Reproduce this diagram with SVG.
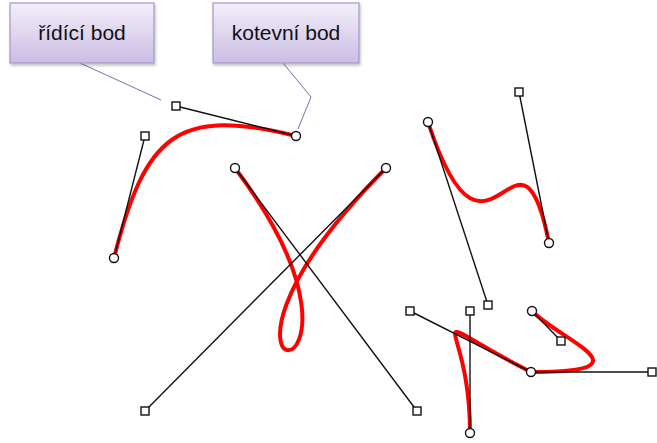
<svg xmlns="http://www.w3.org/2000/svg" width="657" height="443" viewBox="0 0 657 443">
<defs>
<linearGradient id="boxg" x1="0" y1="0" x2="0" y2="1">
<stop offset="0" stop-color="#f3effa"/>
<stop offset="1" stop-color="#cbbde4"/>
</linearGradient>
<filter id="sh" x="-10%" y="-10%" width="130%" height="140%">
<feDropShadow dx="1" dy="2" stdDeviation="1.5" flood-color="#000" flood-opacity="0.25"/>
</filter>
</defs>
<style>
.box{fill:url(#boxg);stroke:#a597c6;stroke-width:1.2}
.lbl{font-family:"Liberation Sans",Arial,sans-serif;font-size:21px;fill:#111;text-anchor:middle}
.call{fill:none;stroke:#7d6cb8;stroke-width:1}
.curve{fill:none;stroke:#ff0000;stroke-width:4;stroke-linecap:round;stroke-linejoin:round}
.handle{fill:none;stroke:#111;stroke-width:1.4}
.anc{fill:#fff;stroke:#111;stroke-width:1.4}
.ctl{fill:#fff;stroke:#111;stroke-width:1.4}
</style>
<g id="connectors">
<polyline class="call" points="80,63 161,100"/>
<polyline class="call" points="283,63 311,97 298,129"/>
</g>
<g id="label-ridici">
<rect class="box" x="10" y="3" width="144" height="60" filter="url(#sh)"/>
<text class="lbl" x="82" y="40">řídící bod</text>
</g>
<g id="label-kotevni">
<rect class="box" x="213" y="3" width="146" height="60" filter="url(#sh)"/>
<text class="lbl" x="286" y="40">kotevní bod</text>
</g>
<g id="curve1">
<path class="curve" d="M114,258 C145,136 176,106 296,136"/>
<line class="handle" x1="114" y1="258" x2="145" y2="136"/>
<line class="handle" x1="296" y1="136" x2="176" y2="106"/>
<rect class="ctl" x="141" y="132" width="8" height="8"/>
<rect class="ctl" x="172" y="102" width="8" height="8"/>
<circle class="anc" cx="114" cy="258" r="4.5"/>
<circle class="anc" cx="296" cy="136" r="4.5"/>
</g>
<g id="curve2">
<path class="curve" d="M235,168 C417,411 145,411 386,168"/>
<line class="handle" x1="235" y1="168" x2="417" y2="411"/>
<line class="handle" x1="386" y1="168" x2="145" y2="411"/>
<rect class="ctl" x="141" y="407" width="8" height="8"/>
<rect class="ctl" x="413" y="407" width="8" height="8"/>
<circle class="anc" cx="235" cy="168" r="4.5"/>
<circle class="anc" cx="386" cy="168" r="4.5"/>
</g>
<g id="curve3">
<path class="curve" d="M428,122 C488,305 519,92 549,243"/>
<line class="handle" x1="428" y1="122" x2="488" y2="305"/>
<line class="handle" x1="549" y1="243" x2="519" y2="92"/>
<rect class="ctl" x="484" y="301" width="8" height="8"/>
<rect class="ctl" x="515" y="88" width="8" height="8"/>
<circle class="anc" cx="428" cy="122" r="4.5"/>
<circle class="anc" cx="549" cy="243" r="4.5"/>
</g>
<g id="curve4">
<path class="curve" d="M470,433 C470,311 410,311 531,372 C654,372 561,341 532,311"/>
<line class="handle" x1="470" y1="433" x2="470" y2="311"/>
<line class="handle" x1="531" y1="372" x2="410" y2="311"/>
<line class="handle" x1="531" y1="372" x2="652" y2="372"/>
<line class="handle" x1="532" y1="311" x2="561" y2="341"/>
<rect class="ctl" x="406" y="307" width="8" height="8"/>
<rect class="ctl" x="466" y="307" width="8" height="8"/>
<rect class="ctl" x="557" y="337" width="8" height="8"/>
<rect class="ctl" x="648" y="368" width="8" height="8"/>
<circle class="anc" cx="470" cy="433" r="4.5"/>
<circle class="anc" cx="531" cy="372" r="4.5"/>
<circle class="anc" cx="532" cy="311" r="4.5"/>
</g>
</svg>
